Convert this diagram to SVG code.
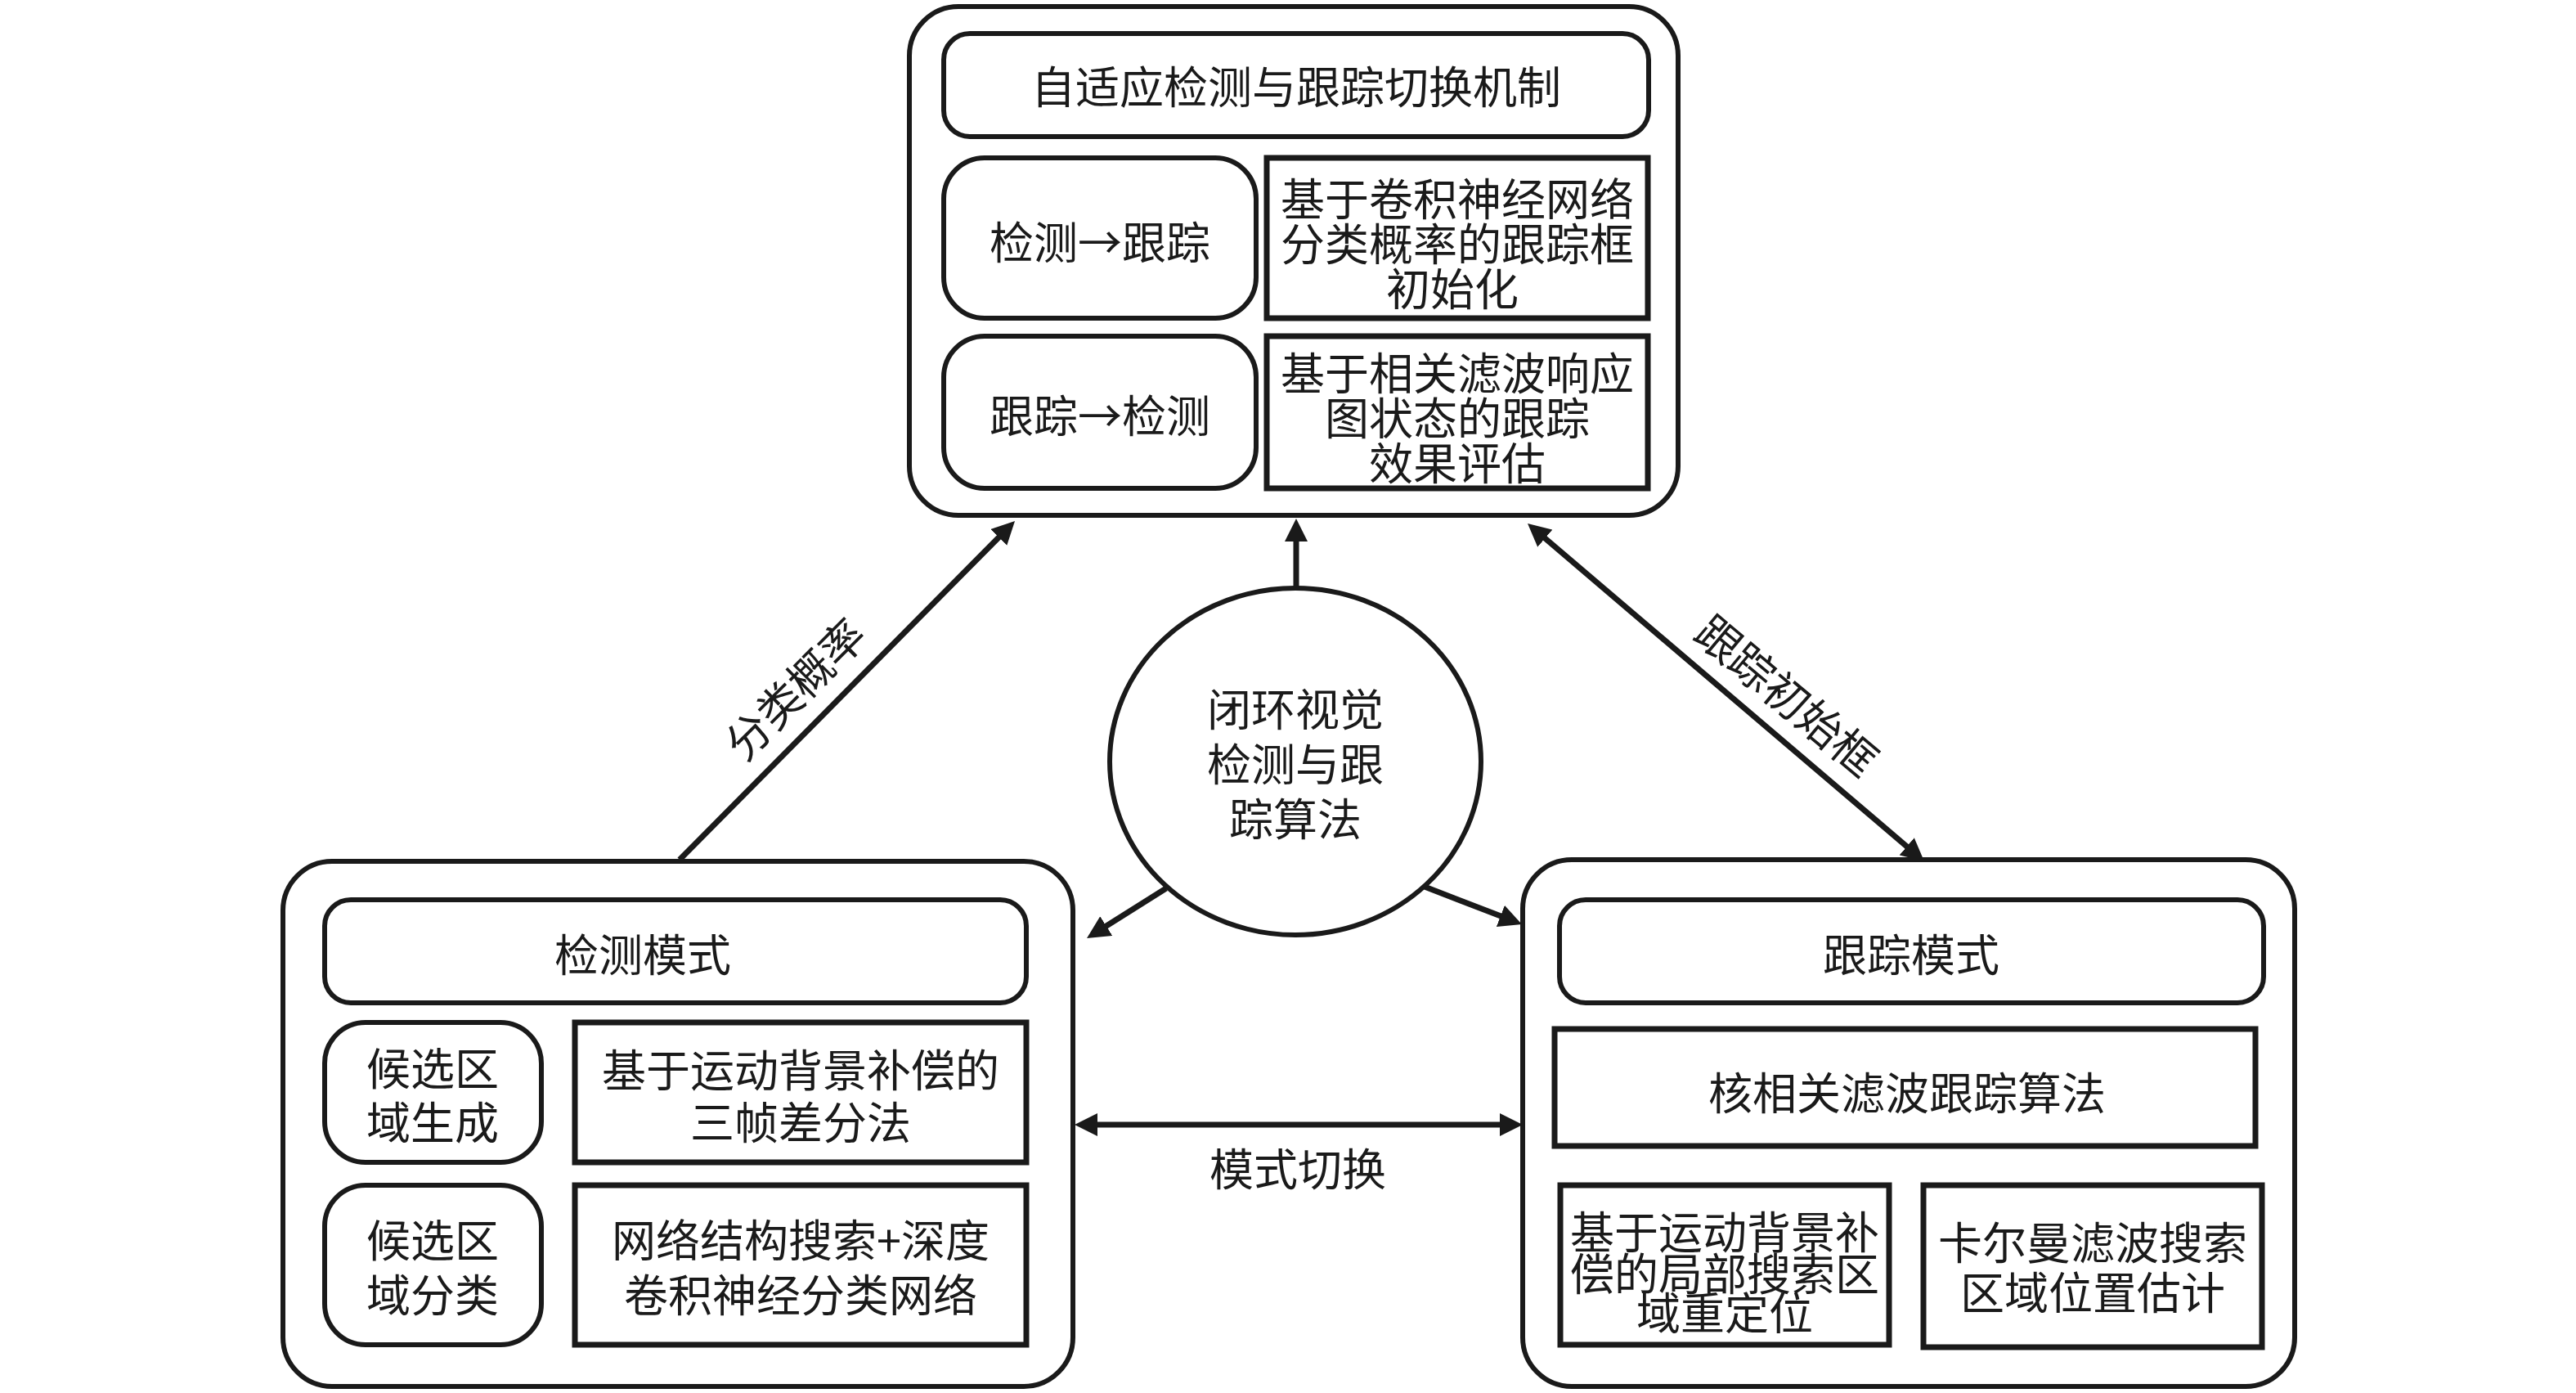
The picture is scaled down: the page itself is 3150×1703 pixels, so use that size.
<svg xmlns="http://www.w3.org/2000/svg" width="3150" height="1703" viewBox="0 0 3150 1703">
<style>
.box{fill:#fff;stroke:#1a1a1a;stroke-width:6}
.rect{fill:#fff;stroke:#1a1a1a;stroke-width:7}
.t{font-family:"Noto Sans CJK SC","Noto Sans CJK JP",sans-serif;font-size:54px;fill:#1a1a1a;text-anchor:middle;dominant-baseline:central}
.conn{stroke:#1a1a1a;stroke-width:7;fill:none}
</style>
<defs>
<marker id="ah" viewBox="0 0 28 28" markerWidth="28" markerHeight="28" markerUnits="userSpaceOnUse" refX="20" refY="14" orient="auto-start-reverse">
<path d="M0,0 L28,14 L0,28 z" fill="#1a1a1a"/>
</marker>
</defs>
<rect width="3150" height="1703" fill="#fff"/>

<g id="connectors">
<line class="conn" x1="1585" y1="722" x2="1585" y2="642" marker-end="url(#ah)"/>
<line class="conn" x1="831" y1="1051" x2="1235.4" y2="642.7" marker-end="url(#ah)"/>
<line class="conn" x1="1874.1" y1="645.2" x2="2346.9" y2="1047.8" marker-start="url(#ah)" marker-end="url(#ah)"/>
<line class="conn" x1="1426" y1="1086" x2="1335.8" y2="1142.7" marker-end="url(#ah)"/>
<line class="conn" x1="1742" y1="1084" x2="1853.5" y2="1127.1" marker-end="url(#ah)"/>
<line class="conn" x1="1322" y1="1375" x2="1854" y2="1375" marker-start="url(#ah)" marker-end="url(#ah)"/>
<text class="t" transform="translate(970,840) rotate(-45)">分类概率</text>
<text class="t" transform="translate(2187,848) rotate(40)">跟踪初始框</text>
<text class="t" x="1587" y="1426">模式切换</text>
</g>

<g id="switch-mechanism">
<rect class="box" x="1112" y="8" width="940" height="622" rx="60"/>
<rect class="box" x="1154" y="41" width="862" height="126" rx="32"/>
<text class="t" x="1585" y="103">自适应检测与跟踪切换机制</text>
<rect class="box" x="1154" y="193" width="382" height="196" rx="50"/>
<text class="t" x="1345" y="293">检测→跟踪</text>
<rect class="rect" x="1549" y="193" width="466" height="196"/>
<text class="t" y="240"><tspan x="1782">基于卷积神经网络</tspan><tspan x="1782" dy="55">分类概率的跟踪框</tspan><tspan x="1776" dy="55">初始化</tspan></text>
<rect class="box" x="1154" y="411" width="382" height="186" rx="50"/>
<text class="t" x="1345" y="505">跟踪→检测</text>
<rect class="rect" x="1549" y="411" width="466" height="186"/>
<text class="t" y="453"><tspan x="1782">基于相关滤波响应</tspan><tspan x="1782" dy="55">图状态的跟踪</tspan><tspan x="1782" dy="55">效果评估</tspan></text>
</g>

<g id="core">
<ellipse cx="1584" cy="931" rx="227" ry="212" fill="#fff" stroke="#1a1a1a" stroke-width="6"/>
<text class="t" y="864"><tspan x="1584">闭环视觉</tspan><tspan x="1584" dy="67">检测与跟</tspan><tspan x="1584" dy="67">踪算法</tspan></text>
</g>

<g id="detection-mode">
<rect class="box" x="346" y="1053" width="966" height="642" rx="60"/>
<rect class="box" x="397" y="1100" width="858" height="126" rx="32"/>
<text class="t" x="786" y="1164">检测模式</text>
<rect class="box" x="397" y="1250" width="265" height="171" rx="50"/>
<text class="t" y="1303"><tspan x="529">候选区</tspan><tspan x="529" dy="66">域生成</tspan></text>
<rect class="rect" x="703" y="1250" width="552" height="171"/>
<text class="t" y="1305"><tspan x="979">基于运动背景补偿的</tspan><tspan x="979" dy="64">三帧差分法</tspan></text>
<rect class="box" x="397" y="1449" width="265" height="195" rx="50"/>
<text class="t" y="1513"><tspan x="529">候选区</tspan><tspan x="529" dy="67">域分类</tspan></text>
<rect class="rect" x="703" y="1449" width="552" height="195"/>
<text class="t" y="1513"><tspan x="979">网络结构搜索+深度</tspan><tspan x="979" dy="67">卷积神经分类网络</tspan></text>
</g>

<g id="tracking-mode">
<rect class="box" x="1862" y="1051" width="944" height="644" rx="60"/>
<rect class="box" x="1907" y="1100" width="861" height="126" rx="32"/>
<text class="t" x="2337" y="1164">跟踪模式</text>
<rect class="rect" x="1901" y="1258" width="857" height="143"/>
<text class="t" x="2332" y="1333">核相关滤波跟踪算法</text>
<rect class="rect" x="1908" y="1449" width="402" height="195"/>
<text class="t" y="1503"><tspan x="2109">基于运动背景补</tspan><tspan x="2109" dy="51">偿的局部搜索区</tspan><tspan x="2109" dy="48">域重定位</tspan></text>
<rect class="rect" x="2352" y="1449" width="414" height="198"/>
<text class="t" y="1516"><tspan x="2559">卡尔曼滤波搜索</tspan><tspan x="2559" dy="61">区域位置估计</tspan></text>
</g>
</svg>
